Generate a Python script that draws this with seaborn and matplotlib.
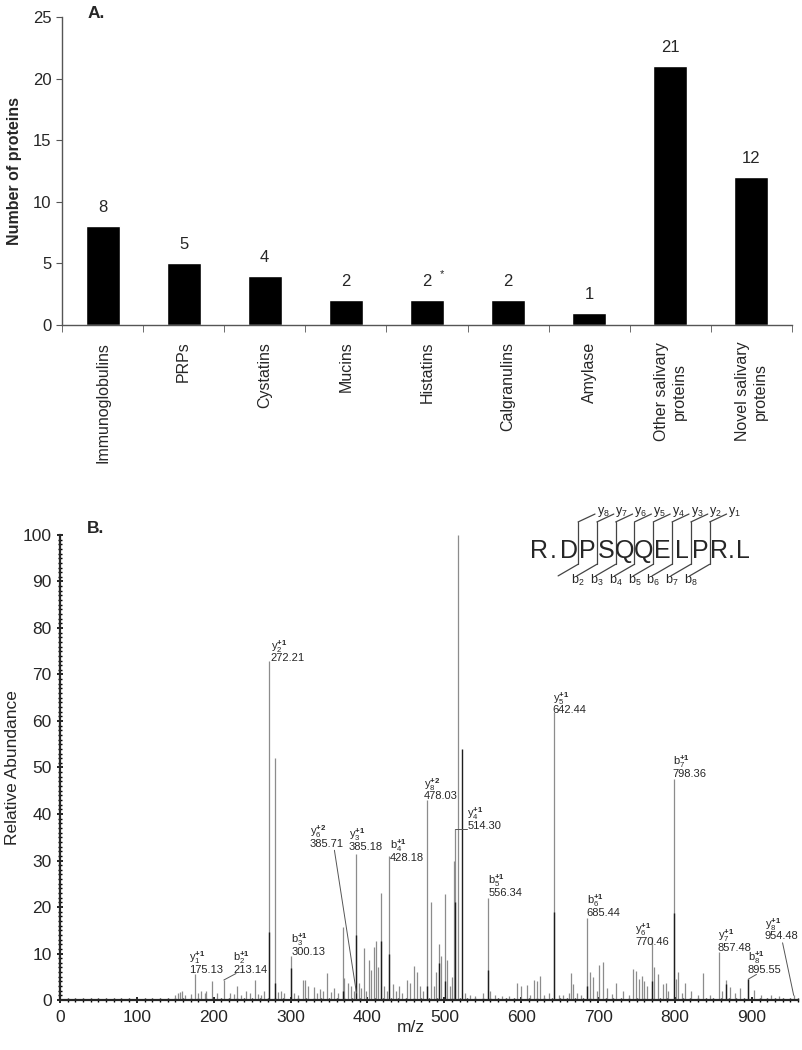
import seaborn as sns
import pandas as pd
import matplotlib.pyplot as plt
import numpy as np
from matplotlib.ticker import MultipleLocator

# ---- panel A data
categories = ["Immunoglobulins", "PRPs", "Cystatins", "Mucins", "Histatins",
              "Calgranulins", "Amylase", "Other salivary\nproteins",
              "Novel salivary\nproteins"]
counts = [8, 5, 4, 2, 2, 2, 1, 21, 12]

# ---- panel B data (m/z, relative abundance)
peak_mz = [150, 153, 156, 159, 163, 170, 175.13, 180, 184, 188, 190, 198, 204,
           213.14, 221, 226, 230, 236, 242, 247, 254, 258, 262, 266, 272.21,
           280, 284, 287, 292, 300.13, 305, 310, 316, 319, 323, 330, 334, 338,
           342, 347, 353, 357, 362, 368, 370, 375, 379, 382, 385.18, 385.71,
           389, 392, 395, 398, 402, 405, 409, 411, 414, 418, 421, 425, 428.18,
           433, 437, 441, 445, 451, 455, 460, 465, 468, 472, 478.03, 483, 486,
           489, 493, 496, 501, 504, 507, 510, 512, 514.30, 518, 527, 533,
           540, 550, 556.34, 559, 566, 575, 584, 594, 600, 607, 611, 616, 620,
           625, 630, 636, 642.44, 649, 655, 662, 665, 667, 673, 678, 685.44,
           690, 694, 699, 701, 706, 712, 718, 723, 733, 740, 746, 749, 753,
           757, 760, 764, 770.46, 773, 778, 784, 788, 791, 798.36, 801, 804,
           809, 813, 821, 830, 837, 845, 857.48, 861, 866, 871, 878, 884,
           895.55, 903, 912, 925, 935, 954.48]
peak_int = [1.0, 1.5, 1.8, 2.0, 1.0, 1.2, 5.5, 1.5, 2.0, 1.5, 2.0, 4.1, 1.5,
            4.3, 1.5, 1.2, 3.0, 1.0, 2.0, 1.5, 4.4, 1.2, 1.0, 2.0, 73.0,
            52.0, 1.8, 2.0, 1.5, 9.5, 1.5, 1.0, 4.2, 4.4, 3.0, 2.7, 1.5, 2.3,
            2.0, 5.8, 1.8, 2.6, 1.5, 15.6, 4.7, 3.6, 3.0, 2.0, 31.5, 1.5,
            3.6, 2.5, 11.1, 2.0, 8.6, 6.5, 11.5, 12.6, 7.0, 23.0, 3.0, 2.0, 31.0,
            3.5, 2.0, 3.0, 1.5, 4.2, 3.6, 7.4, 6.0, 3.0, 2.0, 43.0, 21.0, 3.0,
            6.0, 12.0, 9.5, 22.8, 8.5, 3.0, 5.0, 30.0, 36.8, 100.0, 1.5, 1.0,
            0.8, 1.5, 21.9, 2.0, 1.0, 0.8, 0.8, 3.6, 3.0, 3.3, 1.0, 4.3, 4.0,
            5.1, 1.0, 1.5, 62.0, 1.0, 1.0, 1.5, 5.8, 3.4, 1.5, 1.0, 17.6,
            6.0, 5.0, 2.0, 7.6, 8.1, 2.6, 1.2, 3.6, 2.0, 1.0, 6.6, 6.2, 4.5,
            5.2, 4.0, 3.0, 13.6, 7.0, 5.7, 3.4, 3.7, 2.0, 47.5, 4.5, 6.0,
            1.5, 3.7, 2.0, 1.0, 5.9, 1.0, 10.3, 2.0, 4.3, 2.7, 1.5, 2.5,
            4.5, 2.2, 1.0, 1.0, 0.8, 1.0]

# darker (overlaid) parts of some peaks
dark_mz = [272.21, 280, 300.13, 368, 385.18, 418, 428.18, 478.03, 493, 501,
           514.30, 523, 556.34, 642.44, 685.44, 770.46, 798.36, 866, 895.55]
dark_int = [14.7, 3.6, 6.8, 2.0, 14.0, 12.6, 10.0, 3.0, 8.0, 4.0,
            21.0, 54.0, 6.5, 19.0, 3.0, 4.0, 18.7, 3.5, 4.5]

# annotated fragment ions
ion_mz = [175.13, 213.14, 272.21, 300.13, 385.71, 385.18, 428.18, 478.03,
          514.30, 556.34, 642.44, 685.44, 770.46, 798.36, 857.48, 895.55, 954.48]
ion_type = ["y", "b", "y", "b", "y", "y", "b", "y", "y", "b", "y", "b", "y",
            "b", "y", "b", "y"]
ion_num = [1, 2, 2, 3, 6, 3, 4, 8, 4, 5, 5, 6, 6, 7, 7, 8, 8]
ion_charge = [1, 1, 1, 1, 2, 1, 1, 2, 1, 1, 1, 1, 1, 1, 1, 1, 1]

# peptide sequence
residues = list("DPSQQELPR")
y_labels = ["y8", "y7", "y6", "y5", "y4", "y3", "y2", "y1"]
b_labels = ["b2", "b3", "b4", "b5", "b6", "b7", "b8"]

sns.set_style("ticks")
plt.rcParams["font.family"] = ["Liberation Sans", "DejaVu Sans"]
plt.rcParams["mathtext.fontset"] = "custom"
plt.rcParams["mathtext.rm"] = "Liberation Sans"
plt.rcParams["mathtext.bf"] = "Liberation Sans:bold"
plt.rcParams["mathtext.it"] = "Liberation Sans:italic"

fig = plt.figure(figsize=(8.03, 10.5), dpi=100)

# ================= panel A
ax1 = fig.add_axes([0.0772, 0.6905, 0.909, 0.2933])
df = pd.DataFrame({"category": categories, "count": counts})
sns.barplot(data=df, x="category", y="count", color="black", saturation=1,
            width=0.42, ax=ax1)
ax1.set_xlim(-0.5, 8.5)
ax1.set_ylim(0, 25)
ax1.set_yticks(np.arange(0, 26, 5))
ax1.set_xlabel("")
ax1.set_ylabel("Number of proteins", fontsize=11.5, fontweight="bold", labelpad=8)
ax1.tick_params(axis="y", labelsize=12, length=4, direction="out", color="#555")
ax1.tick_params(axis="x", which="major", length=0, pad=12)
ax1.set_xticks(np.arange(-0.5, 9, 1), minor=True)
ax1.tick_params(axis="x", which="minor", length=5, direction="out", color="#555")
for lab in ax1.get_xticklabels():
    lab.set_rotation(90)
    lab.set_fontsize(11.5)
    lab.set_va("top")
    lab.set_ha("center")
    lab.set_multialignment("center")
for sp in ["left", "bottom"]:
    ax1.spines[sp].set_color("#555")
    ax1.spines[sp].set_linewidth(1.0)
sns.despine(ax=ax1)

for i, v in enumerate(counts):
    ax1.annotate(str(v), (i, v), xytext=(0, 8), textcoords="offset points",
                 ha="center", va="bottom", fontsize=12)
ax1.annotate("*", (4, counts[4]), xytext=(11, 15), textcoords="offset points",
             ha="center", va="bottom", fontsize=8)

fig.text(88 / 803, 1 - 18 / 1050, "A.", fontsize=12.5, fontweight="bold")

# ================= panel B
ax2 = fig.add_axes([0.0747, 0.0476, 0.919, 0.4429])
ax2.vlines(peak_mz, 0, peak_int, color="#8c8c8c", lw=0.9)
ax2.vlines(dark_mz, 0, dark_int, color="#1e1e1e", lw=1.0)
ax2.set_xlim(0, 960)
ax2.set_ylim(0, 100)
ax2.xaxis.set_major_locator(MultipleLocator(100))
ax2.xaxis.set_minor_locator(MultipleLocator(10))
ax2.yaxis.set_major_locator(MultipleLocator(10))
ax2.yaxis.set_minor_locator(MultipleLocator(1))
ax2.tick_params(which="major", labelsize=12.5, length=5, width=1.2,
                direction="inout", color="black")
ax2.tick_params(which="minor", length=3, width=1.0, direction="inout",
                color="black")
ax2.tick_params(axis="x", pad=5)
ax2.set_xlabel("m/z", fontsize=12.5)
ax2.xaxis.set_label_coords(0.476, -0.042)
ax2.set_ylabel("Relative Abundance", fontsize=12.5, labelpad=2)
for sp in ["left", "bottom"]:
    ax2.spines[sp].set_linewidth(1.6)
sns.despine(ax=ax2)

# label anchor (left, bottom) for each annotated ion
label_pos = [(168, 5.4), (225, 5.4), (274, 72.4), (301, 9.3), (325, 32.5),
             (376, 31.9), (429, 29.5), (473, 42.7), (530, 36.3), (557, 21.9),
             (641, 61.2), (685, 17.6), (748, 11.5), (797, 47.6), (856, 10.2),
             (895, 5.4), (917, 12.6)]
for mz, typ, num, chg, (tx, ty) in zip(ion_mz, ion_type, ion_num, ion_charge,
                                       label_pos):
    txt = (r"$\mathrm{" + typ + r"}_{" + str(num) + r"}^{\mathbf{+" + str(chg)
           + r"}}$" + "\n" + f"{mz:.2f}")
    ax2.text(tx, ty, txt, fontsize=8, ha="left", va="bottom", linespacing=0.85)

# leader lines
leaders = [((213.14, 4.3), (229, 5.7)), ((357, 32.2), (385.71, 1.5)),
           ((513.5, 36.8), (530, 36.8)), ((895.55, 4.5), (906, 5.5)),
           ((940, 12.3), (954.48, 1.0))]
for (x0, y0), (x1, y1) in leaders:
    ax2.plot([x0, x1], [y0, y1], color="#555", lw=0.7)

fig.text(87 / 803, 1 - 533 / 1050, "B.", fontsize=12.5, fontweight="bold")

# peptide sequence with fragmentation brackets
step = 24.45
cut0 = 674.0
cuts = cut0 + step * np.arange(len(residues) - 1)
seq_base = 95.0
seq_kw = dict(fontsize=18, ha="center", va="baseline", clip_on=False)
for j, r in enumerate(residues):
    ax2.text(cut0 - step / 2 + step * j, seq_base, r, **seq_kw)
ax2.text(623, seq_base, "R", **seq_kw)
ax2.text(642, seq_base, ".", **seq_kw)
ax2.text(873.5, seq_base, ".", **seq_kw)
ax2.text(889, seq_base, "L", **seq_kw)

for k, c in enumerate(cuts):
    ax2.plot([c, c], [93.7, 102.8], color="#444", lw=0.9, clip_on=False)
    ax2.plot([c, c + 22], [102.8, 104.5], color="#444", lw=0.9, clip_on=False)
    ax2.plot([c, c - 26], [93.7, 91.2], color="#444", lw=0.9, clip_on=False)
    lab = y_labels[k]
    ax2.text(c + 24, 105.0, r"$\mathrm{" + lab[0] + "}_{" + lab[1:] + "}$",
             fontsize=9, ha="left", va="center", clip_on=False)
    if k < len(b_labels):
        lab = b_labels[k]
        ax2.text(c - 9, 90.3, r"$\mathrm{" + lab[0] + "}_{" + lab[1:] + "}$",
                 fontsize=9, ha="left", va="center", clip_on=False)

fig.savefig("out.png", dpi=100)
